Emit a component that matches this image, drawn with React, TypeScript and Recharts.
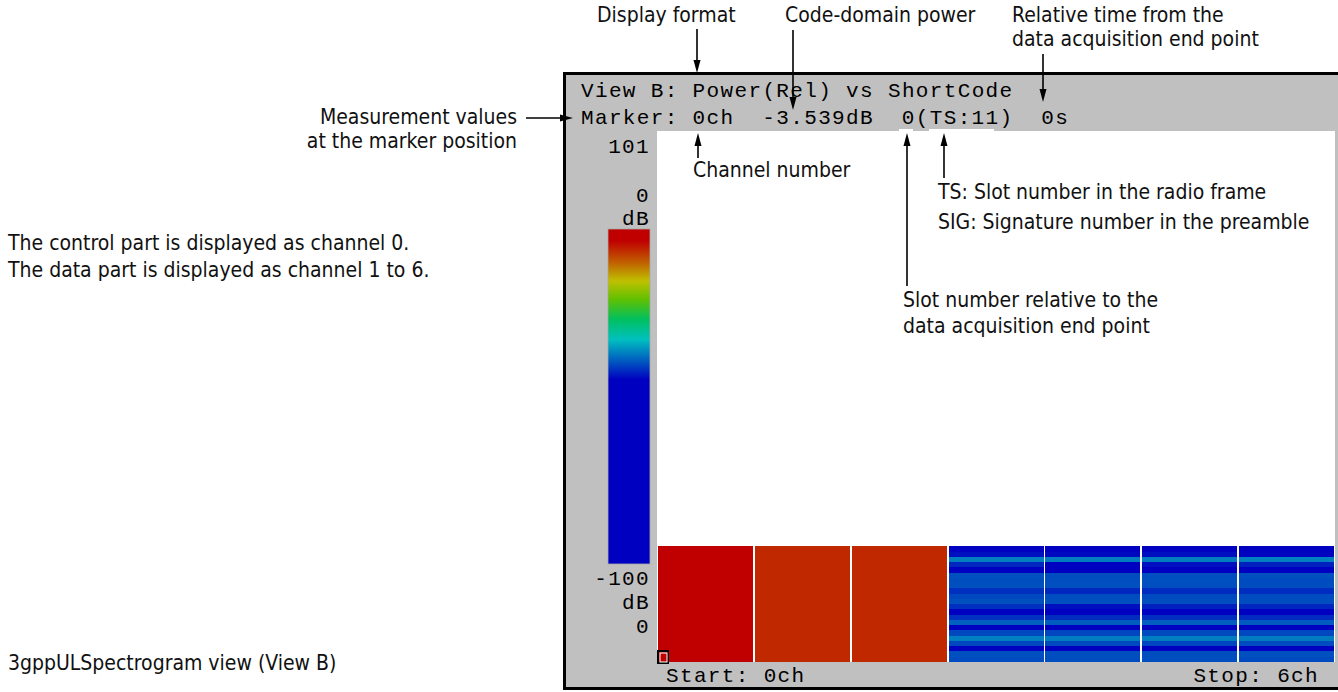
import React from 'react';
import { BarChart, Bar, XAxis, YAxis, Cell, CartesianGrid } from 'recharts';

// ---------- data ----------
const channels = ['0', '1', '2', '3', '4', '5', '6'];
const slotKeys = ['s0','s1','s2','s3','s4','s5','s6','s7','s8','s9','s10','s11','s12','s13','s14','s15','s16','s17','s18','s19','s20','s21'];
// power (dB) per slot (slot 0 at the bottom) for each channel
const ch0Power = [-3.54,-3.54,-3.54,-3.54,-3.54,-3.54,-3.54,-3.54,-3.54,-3.54,-3.54,-3.54,-3.54,-3.54,-3.54,-3.54,-3.54,-3.54,-3.54,-3.54,-3.54,-3.54];
const ch1Power = [-6.3,-6.3,-6.3,-6.3,-6.3,-6.3,-6.3,-6.3,-6.3,-6.3,-6.3,-6.3,-6.3,-6.3,-6.3,-6.3,-6.3,-6.3,-6.3,-6.3,-6.3,-6.3];
const ch2Power = [-6.3,-6.3,-6.3,-6.3,-6.3,-6.3,-6.3,-6.3,-6.3,-6.3,-6.3,-6.3,-6.3,-6.3,-6.3,-6.3,-6.3,-6.3,-6.3,-6.3,-6.3,-6.3];
const ch3Power = [-40.3,-40,-45,-40.5,-37,-40.5,-46,-39,-42,-46,-42,-40,-40.5,-42,-40,-40.2,-40,-46,-42.5,-37,-44,-45.5];
const ch4Power = [-40.2,-40.1,-45.5,-40.4,-37.2,-40.6,-46,-39.2,-42.2,-46,-44,-40,-40.2,-42.5,-40,-40.1,-40.2,-46,-45,-37.1,-44.5,-45.8];
const ch5Power = [-40.1,-40.2,-45.2,-40.6,-37.1,-40.4,-46,-39.1,-42.1,-46,-43,-40.1,-40.4,-42.3,-40.1,-40,-40.1,-46,-44,-37.2,-44.2,-45.6];
const ch6Power = [-40.4,-40,-45.4,-40.3,-37.3,-40.5,-46,-39.3,-42.4,-46,-42.6,-40.2,-40.3,-42.2,-40.2,-40.3,-40,-46,-43,-37,-44.8,-45.4];
const channelPowers = [ch0Power, ch1Power, ch2Power, ch3Power, ch4Power, ch5Power, ch6Power];
const slotTicks = [0, 101];
const scaleTicks = ['0', 'dB', '-100', 'dB'];

const headerLine1 = 'View B: Power(Rel) vs ShortCode';
const markerParts = ['Marker:', '0ch', '-3.539dB', '0(TS:11)', '0s'];
const startLabel = 'Start: ' + channels[0] + 'ch';
const stopLabel = 'Stop: ' + channels[channels.length - 1] + 'ch';

// colour map (dB -> rgb)
const colorStops: { db: number; rgb: number[] }[] = [
  { db: 0, rgb: [192, 0, 0] },
  { db: -3.6, rgb: [192, 0, 0] },
  { db: -10, rgb: [192, 96, 0] },
  { db: -15.5, rgb: [192, 192, 0] },
  { db: -21, rgb: [96, 192, 0] },
  { db: -27, rgb: [0, 192, 96] },
  { db: -33, rgb: [0, 192, 192] },
  { db: -45, rgb: [0, 0, 192] },
  { db: -100, rgb: [0, 0, 192] },
];

function toHex(rgb: number[]) {
  return '#' + rgb.map((v) => Math.round(v).toString(16).padStart(2, '0')).join('');
}
function dbColor(db: number) {
  for (let i = 0; i < colorStops.length - 1; i++) {
    const a = colorStops[i], b = colorStops[i + 1];
    if (db <= a.db && db >= b.db) {
      const t = a.db === b.db ? 0 : (a.db - db) / (a.db - b.db);
      return toHex(a.rgb.map((v, k) => v + (b.rgb[k] - v) * t));
    }
  }
  return toHex(colorStops[colorStops.length - 1].rgb);
}

const tableData = channels.map((ch) => {
  const row: Record<string, any> = { ch };
  slotKeys.forEach((k) => (row[k] = 1));
  return row;
});

// ---------- styles ----------
const MONO = "'Liberation Mono', 'Courier New', monospace";
const ANN = "'Liberation Sans Narrow', 'Arial Narrow', 'DejaVu Sans Condensed', sans-serif";

const SlotRect = (props: any) => {
  const { x, y, width, height, fill } = props;
  if (!width || !height) return null;
  return <rect x={x} y={y} width={width} height={height} fill={fill} shapeRendering="crispEdges" />;
};

const SlotTick = (props: any) => {
  const { x, y, payload } = props;
  const off = payload.value === 101 ? 22 : -29;
  return (
    <text x={x} y={y + off} textAnchor="end" fontFamily={MONO} fontSize={21} letterSpacing={1.35} fill="#000">
      {payload.value}
    </text>
  );
};

function ArrowV({ x, y1, y2 }: { x: number; y1: number; y2: number }) {
  // arrow from y1 (tail) to y2 (tip)
  const dir = y2 > y1 ? 1 : -1;
  return (
    <g>
      <line x1={x} y1={y1} x2={x} y2={y2 - dir * 10} stroke="#000" strokeWidth={1.6} />
      <polygon points={`${x - 3.5},${y2 - dir * 13} ${x + 3.5},${y2 - dir * 13} ${x},${y2}`} fill="#000" />
    </g>
  );
}
function ArrowH({ y, x1, x2 }: { y: number; x1: number; x2: number }) {
  return (
    <g>
      <line x1={x1} y1={y} x2={x2 - 10} y2={y} stroke="#000" strokeWidth={1.6} />
      <polygon points={`${x2 - 13},${y - 3.5} ${x2 - 13},${y + 3.5} ${x2},${y}`} fill="#000" />
    </g>
  );
}

export default function App() {
  const annStyle = { fontFamily: ANN, fontSize: 21, fill: '#111' } as any;
  const monoStyle = { fontFamily: MONO, fontSize: 21, letterSpacing: 1.35, fill: '#000' } as any;
  return (
    <div style={{ position: 'absolute', left: 0, top: 0, width: 1338, height: 692, background: '#fff', overflow: 'hidden' }}>
      <div
        style={{
          position: 'absolute', left: 563, top: 72, width: 778, height: 618,
          boxSizing: 'border-box', border: '3px solid #000', background: '#c0c0c0',
        }}
      />
      <div style={{ position: 'absolute', left: 0, top: 0 }}>
        <BarChart
          width={1338}
          height={692}
          data={tableData}
          margin={{ top: 131, right: 3, bottom: 30, left: 597 }}
          barCategoryGap={1}
        >
          <CartesianGrid fill="#ffffff" horizontal={false} vertical={false} stroke="none" />
          <XAxis dataKey="ch" hide />
          <YAxis
            width={60}
            domain={[0, 101]}
            ticks={slotTicks}
            axisLine={false}
            tickLine={false}
            tickSize={0}
            tickMargin={7}
            tick={<SlotTick />}
            allowDataOverflow
          />
          {slotKeys.map((k, si) => (
            <Bar key={k} dataKey={k} stackId="a" isAnimationActive={false} shape={<SlotRect />}>
              {channels.map((ch, ci) => (
                <Cell key={ch} fill={dbColor(channelPowers[ci][si])} />
              ))}
            </Bar>
          ))}
        </BarChart>
      </div>
      <svg width={1338} height={692} style={{ position: 'absolute', left: 0, top: 0, pointerEvents: 'none' }}>
        <defs>
          <linearGradient id="cbar" x1="0" y1="0" x2="0" y2="1">
            {colorStops.map((s, i) => (
              <stop key={i} offset={`${(-s.db / 100) * 100}%`} stopColor={toHex(s.rgb)} />
            ))}
          </linearGradient>
        </defs>
        {/* colour bar */}
        <rect x={608} y={229} width={42} height={335} fill="url(#cbar)" stroke="#a8a8a8" strokeWidth={0.8} />
        <text x={650} y={202} textAnchor="end" style={monoStyle}>{scaleTicks[0]}</text>
        <text x={650} y={225} textAnchor="end" style={monoStyle}>{scaleTicks[1]}</text>
        <text x={650} y={585} textAnchor="end" style={monoStyle}>{scaleTicks[2]}</text>
        <text x={650} y={609} textAnchor="end" style={monoStyle}>{scaleTicks[3]}</text>

        {/* header */}
        <text x={581} y={96.5} style={monoStyle}>{headerLine1}</text>
        <text x={581} y={123.5} style={monoStyle}>{markerParts[0]}</text>
        <text x={581 + 8 * 13.95} y={123.5} style={monoStyle}>{markerParts[1]}</text>
        <text x={581 + 13 * 13.95} y={123.5} style={monoStyle}>{markerParts[2]}</text>
        <text x={581 + 23 * 13.95} y={123.5} style={monoStyle}>{markerParts[3]}</text>
        <text x={581 + 33 * 13.95} y={123.5} style={monoStyle}>{markerParts[4]}</text>
        <line x1={899} y1={130} x2={913} y2={130} stroke="#fff" strokeWidth={2} />
        <line x1={929} y1={130} x2={994} y2={130} stroke="#fff" strokeWidth={2} />

        {/* footer */}
        <text x={666} y={682} style={monoStyle}>{startLabel}</text>
        <text x={1319} y={682} textAnchor="end" style={monoStyle}>{stopLabel}</text>

        {/* marker */}
        <rect x={658} y={651} width={10} height={12} fill="none" stroke="#000" strokeWidth={2} />
        <rect x={660} y={653} width={7} height={9} fill="none" stroke="#fff" strokeWidth={1} />

        {/* annotations */}
        <text x={597} y={22} style={annStyle}>Display format</text>
        <ArrowV x={697} y1={29} y2={73} />
        <text x={785} y={22} style={annStyle}>Code-domain power</text>
        <ArrowV x={793} y1={30} y2={110} />
        <text x={1012} y={22} style={annStyle}>Relative time from the</text>
        <text x={1012} y={46} style={annStyle}>data acquisition end point</text>
        <ArrowV x={1043} y1={54} y2={102} />

        <text x={517} y={124} textAnchor="end" style={annStyle}>Measurement values</text>
        <text x={517} y={148} textAnchor="end" style={annStyle}>at the marker position</text>
        <ArrowH y={118} x1={526} x2={573} />

        <ArrowV x={698} y1={158} y2={133} />
        <text x={693} y={177} style={annStyle}>Channel number</text>

        <ArrowV x={944} y1={178} y2={133} />
        <text x={938} y={199} style={annStyle}>TS: Slot number in the radio frame</text>
        <text x={938} y={229} style={annStyle}>SIG: Signature number in the preamble</text>

        <ArrowV x={907} y1={286} y2={133} />
        <text x={903} y={307} style={annStyle}>Slot number relative to the</text>
        <text x={903} y={333} style={annStyle}>data acquisition end point</text>

        <text x={8} y={250} style={annStyle}>The control part is displayed as channel 0.</text>
        <text x={8} y={277} style={annStyle}>The data part is displayed as channel 1 to 6.</text>

        <text x={8} y={670} style={annStyle}>3gppULSpectrogram view (View B)</text>
      </svg>
    </div>
  );
}
